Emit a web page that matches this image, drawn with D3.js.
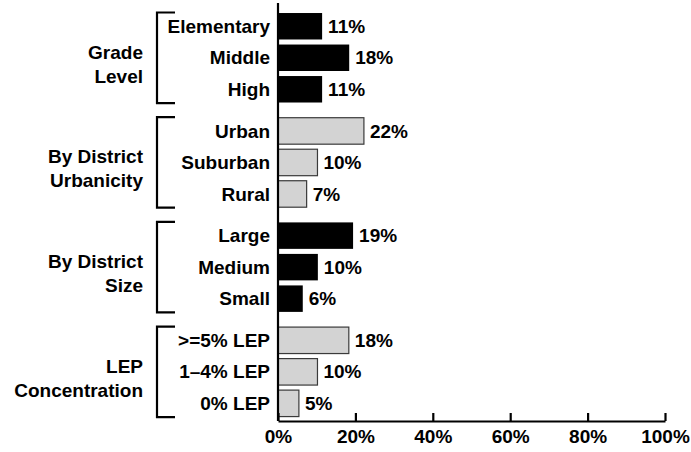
<!DOCTYPE html>
<html>
<head>
<meta charset="utf-8">
<script src="https://cdn.jsdelivr.net/npm/d3@7"></script>
<style>
  html, body { margin: 0; padding: 0; background: #fff; }
  svg { display: block; }
  text { font-family: "Liberation Sans", Arial, Helvetica, sans-serif; font-weight: bold; fill: #000; }
</style>
</head>
<body>
<svg id="chart" width="691" height="452"></svg>
<script>
// ---- data ----
const groups = ["Grade Level", "By District Urbanicity", "By District Size", "LEP Concentration"];
const groupLines = [["Grade", "Level"], ["By District", "Urbanicity"], ["By District", "Size"], ["LEP", "Concentration"]];
const groupColors = ["#000000", "#d3d3d3", "#000000", "#d3d3d3"];
const categories = [
  ["Elementary", "Middle", "High"],
  ["Urban", "Suburban", "Rural"],
  ["Large", "Medium", "Small"],
  [">=5% LEP", "1\u20134% LEP", "0% LEP"]
];
const values = [
  [11.4, 18.4, 11.4],
  [22.2, 10.2, 7.4],
  [19.4, 10.3, 6.4],
  [18.3, 10.2, 5.4]
];
const valueLabels = [
  ["11%", "18%", "11%"],
  ["22%", "10%", "7%"],
  ["19%", "10%", "6%"],
  ["18%", "10%", "5%"]
];
const tickValues = [0, 20, 40, 60, 80, 100];

// ---- scales ----
const svg = d3.select("#chart");
const x = d3.scaleLinear().domain([0, 100]).range([278, 665]);
const yGroup = d3.scaleBand().domain(groups).range([10.5, 419.1]).paddingInner(0.097).paddingOuter(0);
const yItem = d3.scaleBand().domain([0, 1, 2]).range([0, yGroup.bandwidth()]).paddingInner(0.16).paddingOuter(0.08);

const axisY = 421;

groups.forEach((gName, gi) => {
  const g0 = yGroup(gName);
  const g = svg.append("g").attr("transform", `translate(0,${g0})`);
  const rows = categories[gi].map((c, i) => ({ c, v: values[gi][i], lab: valueLabels[gi][i], i }));
  const isGray = groupColors[gi] !== "#000000";

  g.selectAll("rect").data(rows).join("rect")
    .attr("x", x(0))
    .attr("y", d => yItem(d.i))
    .attr("width", d => x(d.v) - x(0))
    .attr("height", yItem.bandwidth())
    .attr("fill", groupColors[gi])
    .attr("stroke", isGray ? "#3a3a3a" : "none")
    .attr("stroke-width", isGray ? 1.2 : 0);

  g.selectAll("text.cat").data(rows).join("text")
    .attr("class", "cat")
    .attr("x", 270)
    .attr("y", d => yItem(d.i) + yItem.bandwidth() / 2)
    .attr("dy", "0.35em")
    .attr("text-anchor", "end")
    .style("font-size", "19px")
    .text(d => d.c);

  g.selectAll("text.val").data(rows).join("text")
    .attr("class", "val")
    .attr("x", d => x(d.v) + 6)
    .attr("y", d => yItem(d.i) + yItem.bandwidth() / 2)
    .attr("dy", "0.35em")
    .style("font-size", "19px")
    .text(d => d.lab);

  // bracket
  const b0 = 2, b1 = yGroup.bandwidth() - 2;
  g.append("path")
    .attr("d", `M175,${b0} H157 V${b1} H175`)
    .attr("fill", "none")
    .attr("stroke", "#000")
    .attr("stroke-width", 2.2);

  // group label
  const center = yGroup.bandwidth() / 2;
  g.append("text")
    .attr("x", 143)
    .attr("text-anchor", "end")
    .style("font-size", "19px")
    .selectAll("tspan").data(groupLines[gi]).join("tspan")
    .attr("x", 143)
    .attr("y", (d, i) => center + 1 + i * 24)
    .text(d => d);
});

// y axis line
svg.append("line")
  .attr("x1", x(0)).attr("x2", x(0))
  .attr("y1", 3).attr("y2", axisY)
  .attr("stroke", "#000").attr("stroke-width", 2.2);

// x axis
const xAxis = d3.axisBottom(x)
  .tickValues(tickValues)
  .tickFormat(d => d + "%")
  .tickSizeInner(-8)
  .tickSizeOuter(0)
  .tickPadding(9);
const ax = svg.append("g").attr("transform", `translate(0,${axisY})`).call(xAxis);
ax.select(".domain").attr("stroke", "#000").attr("stroke-width", 2.2);
ax.selectAll(".tick line").attr("stroke", "#000").attr("stroke-width", 2.2);
ax.selectAll(".tick text")
  .style("font-family", "'Liberation Sans', Arial, Helvetica, sans-serif")
  .style("font-weight", "bold")
  .style("font-size", "19px")
  .attr("fill", "#000");
</script>
</body>
</html>
